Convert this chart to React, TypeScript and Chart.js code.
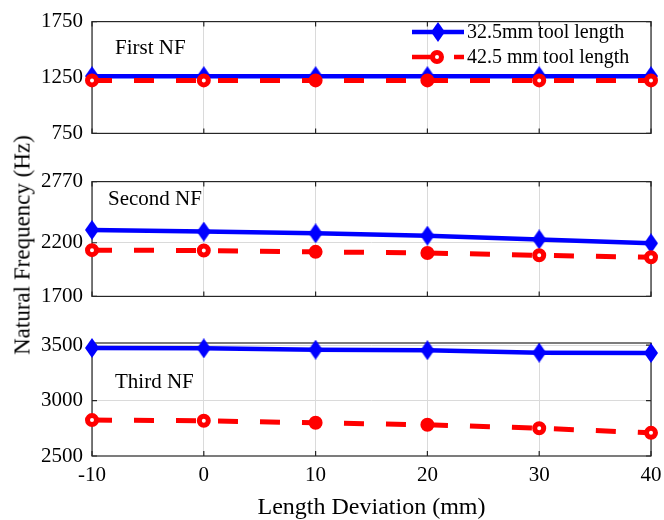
import React, { useEffect, useRef } from 'react';
import { Chart, registerables } from 'chart.js';

Chart.register(...registerables);

// ---------- data ----------
const lengthDeviation = [-10, 0, 10, 20, 30, 40];
const xTickValues = [-10, 0, 10, 20, 30, 40];

const first32 = [1262, 1262, 1262, 1262, 1262, 1262];
const first42 = [1224, 1224, 1224, 1224, 1224, 1224];
const second32 = [2320, 2304, 2288, 2266, 2231, 2195];
const second42 = [2131, 2128, 2115, 2105, 2083, 2065];
const third32 = [3475, 3472, 3460, 3455, 3433, 3430];
const third42 = [2824, 2818, 2800, 2782, 2751, 2709];

const firstTicks = [750, 1250, 1750];
const secondTicks = [1700, 2200, 2770];
const thirdTicks = [2500, 3000, 3500];

const panelLabels = ['First NF', 'Second NF', 'Third NF'];
const legendLabels = ['32.5mm tool length', '42.5 mm tool length'];
const xTitle = 'Length Deviation (mm)';
const yTitle = 'Natural Frequency (Hz)';

// ---------- styles ----------
const FONT = "'Liberation Serif', 'Times New Roman', serif";
const BLUE = '#0000ff';
const RED = '#ff0000';
const GRID = '#dadada';
const FRAME = '#262626';
const ringFill = ['#ffffff', '#ffffff', RED, RED, '#ffffff', '#ffffff'];

function makeDiamond(w: number, h: number, color: string) {
  const c = document.createElement('canvas');
  c.width = w;
  c.height = h;
  const g = c.getContext('2d')!;
  g.fillStyle = color;
  g.beginPath();
  g.moveTo(w / 2, 0);
  g.lineTo(w, h / 2);
  g.lineTo(w / 2, h);
  g.lineTo(0, h / 2);
  g.closePath();
  g.fill();
  return c;
}

type Panel = {
  top: number;
  height: number;
  padTop: number;
  padBottom: number;
  min: number;
  max: number;
  ticks: number[];
  s32: number[];
  s42: number[];
  label: string;
  labelX: number;
  labelY: number;
  showX: boolean;
  legend: boolean;
};

const panels: Panel[] = [
  { top: 0, height: 155, padTop: 19, padBottom: 0, min: 750, max: 1750, ticks: firstTicks, s32: first32, s42: first42, label: panelLabels[0], labelX: 115, labelY: 48, showX: false, legend: true },
  { top: 160, height: 158, padTop: 21, padBottom: 0, min: 1700, max: 2770, ticks: secondTicks, s32: second32, s42: second42, label: panelLabels[1], labelX: 108, labelY: 199, showX: false, legend: false },
  { top: 320, height: 200, padTop: 23, padBottom: 64, min: 2500, max: 3520, ticks: thirdTicks, s32: third32, s42: third42, label: panelLabels[2], labelX: 115, labelY: 382, showX: true, legend: false },
];

function PanelChart({ p }: { p: Panel }) {
  const ref = useRef<HTMLCanvasElement>(null);
  useEffect(() => {
    const canvas = ref.current!;
    const diamond = makeDiamond(14, 20, BLUE);

    const framePlugin = {
      id: 'frame',
      beforeDatasetsDraw(chart: any) {
        const { ctx, chartArea: a } = chart;
        ctx.save();
        ctx.strokeStyle = FRAME;
        ctx.lineWidth = 1.2;
        ctx.strokeRect(a.left, a.top, a.right - a.left, a.bottom - a.top);
        const xs = chart.scales.x;
        const ys = chart.scales.y;
        ctx.beginPath();
        xTickValues.forEach((v) => {
          const px = xs.getPixelForValue(v);
          ctx.moveTo(px, a.bottom);
          ctx.lineTo(px, a.bottom - 5);
          ctx.moveTo(px, a.top);
          ctx.lineTo(px, a.top + 5);
        });
        p.ticks.forEach((v) => {
          const py = ys.getPixelForValue(v);
          ctx.moveTo(a.left, py);
          ctx.lineTo(a.left + 5, py);
          ctx.moveTo(a.right, py);
          ctx.lineTo(a.right - 5, py);
        });
        ctx.stroke();
        ctx.restore();
      },
      afterDraw(chart: any) {
        const { ctx, chartArea: a } = chart;
        ctx.save();
        ctx.fillStyle = '#000';
        ctx.font = `21px ${FONT}`;
        ctx.textBaseline = 'middle';
        ctx.textAlign = 'left';
        ctx.fillText(p.label, p.labelX, p.labelY - p.top);
        if (p.showX) {
          const xs = chart.scales.x;
          ctx.textAlign = 'center';
          xTickValues.forEach((v) => {
            ctx.fillText(String(v), xs.getPixelForValue(v), a.bottom + 19);
          });
          ctx.font = `24px ${FONT}`;
          ctx.fillText(xTitle, (a.left + a.right) / 2, a.bottom + 52);
          ctx.textAlign = 'left';
        }
        if (p.legend) {
          const y1 = 32 - p.top;
          ctx.strokeStyle = BLUE;
          ctx.lineWidth = 4.5;
          ctx.setLineDash([]);
          ctx.beginPath();
          ctx.moveTo(412, y1);
          ctx.lineTo(464, y1);
          ctx.stroke();
          ctx.drawImage(diamond, 438 - 7, y1 - 10);
          ctx.fillStyle = '#000';
          ctx.font = `20px ${FONT}`;
          ctx.fillText(legendLabels[0], 467, y1 + 1);
          const y2 = 57 - p.top;
          ctx.strokeStyle = RED;
          ctx.lineWidth = 4.5;
          ctx.setLineDash([20, 22]);
          ctx.beginPath();
          ctx.moveTo(412, y2);
          ctx.lineTo(464, y2);
          ctx.stroke();
          ctx.setLineDash([]);
          ctx.beginPath();
          ctx.arc(437, y2, 4.5, 0, Math.PI * 2);
          ctx.fillStyle = '#fff';
          ctx.fill();
          ctx.lineWidth = 5;
          ctx.strokeStyle = RED;
          ctx.stroke();
          ctx.fillStyle = '#000';
          ctx.fillText(legendLabels[1], 467, y2 + 1);
        }
        ctx.restore();
      },
    };

    const chart = new Chart(canvas, {
      type: 'line',
      data: {
        labels: lengthDeviation,
        datasets: [
          {
            label: legendLabels[0],
            data: lengthDeviation.map((x, i) => ({ x, y: p.s32[i] })),
            borderColor: BLUE,
            backgroundColor: BLUE,
            borderWidth: 4.5,
            pointStyle: diamond as any,
            pointRadius: 8,
            tension: 0,
            clip: false as any,
            order: 2,
          },
          {
            label: legendLabels[1],
            data: lengthDeviation.map((x, i) => ({ x, y: p.s42[i] })),
            borderColor: RED,
            backgroundColor: RED,
            borderWidth: 5,
            borderDash: [20, 22],
            pointStyle: 'circle',
            pointRadius: 4.5,
            pointBorderWidth: 5,
            pointBorderColor: RED,
            pointBackgroundColor: ringFill,
            tension: 0,
            clip: false as any,
            order: 1,
          },
        ],
      },
      options: {
        animation: false,
        responsive: false,
        maintainAspectRatio: false,
        devicePixelRatio: 1,
        layout: { padding: { left: 0, right: 13, top: p.padTop, bottom: p.padBottom } },
        plugins: { legend: { display: false }, tooltip: { enabled: false } },
        scales: {
          x: {
            type: 'linear',
            min: -10,
            max: 40,
            afterBuildTicks: (s: any) => {
              s.ticks = xTickValues.map((v) => ({ value: v }));
            },
            afterFit: (s: any) => {
              s.height = 0;
            },
            ticks: { display: false },
            grid: { color: GRID, drawTicks: false, lineWidth: 1 },
            border: { display: false },
            title: { display: false },
          },
          y: {
            type: 'linear',
            min: p.min,
            max: p.max,
            afterBuildTicks: (s: any) => {
              s.ticks = p.ticks.map((v) => ({ value: v }));
            },
            afterFit: (s: any) => {
              s.width = 92;
            },
            ticks: {
              color: '#000',
              font: { family: FONT, size: 21 },
              padding: 9,
              callback: (v: any) => String(v),
            },
            grid: {
              color: (c: any) => (c.tick && (c.tick.value === p.min || c.tick.value === p.max) ? 'rgba(0,0,0,0)' : GRID),
              drawTicks: false,
              lineWidth: 1,
            },
            border: { display: false },
          },
        },
      },
      plugins: [framePlugin],
    } as any);
    return () => chart.destroy();
  }, [p]);
  return (
    <canvas
      ref={ref}
      width={664}
      height={p.height}
      style={{ position: 'absolute', left: 0, top: p.top, width: 664, height: p.height, display: 'block' }}
    />
  );
}

export default function App() {
  return (
    <div style={{ position: 'absolute', left: 0, top: 0, width: 664, height: 520, background: '#fff', overflow: 'hidden' }}>
      {panels.map((p, i) => (
        <PanelChart key={i} p={p} />
      ))}
      <div
        style={{
          position: 'absolute',
          left: 22,
          top: 245,
          transform: 'translate(-50%, -50%) rotate(-90deg)',
          whiteSpace: 'nowrap',
          fontFamily: FONT,
          fontSize: 23,
          color: '#000',
          lineHeight: 1,
        }}
      >
        {yTitle}
      </div>
    </div>
  );
}
